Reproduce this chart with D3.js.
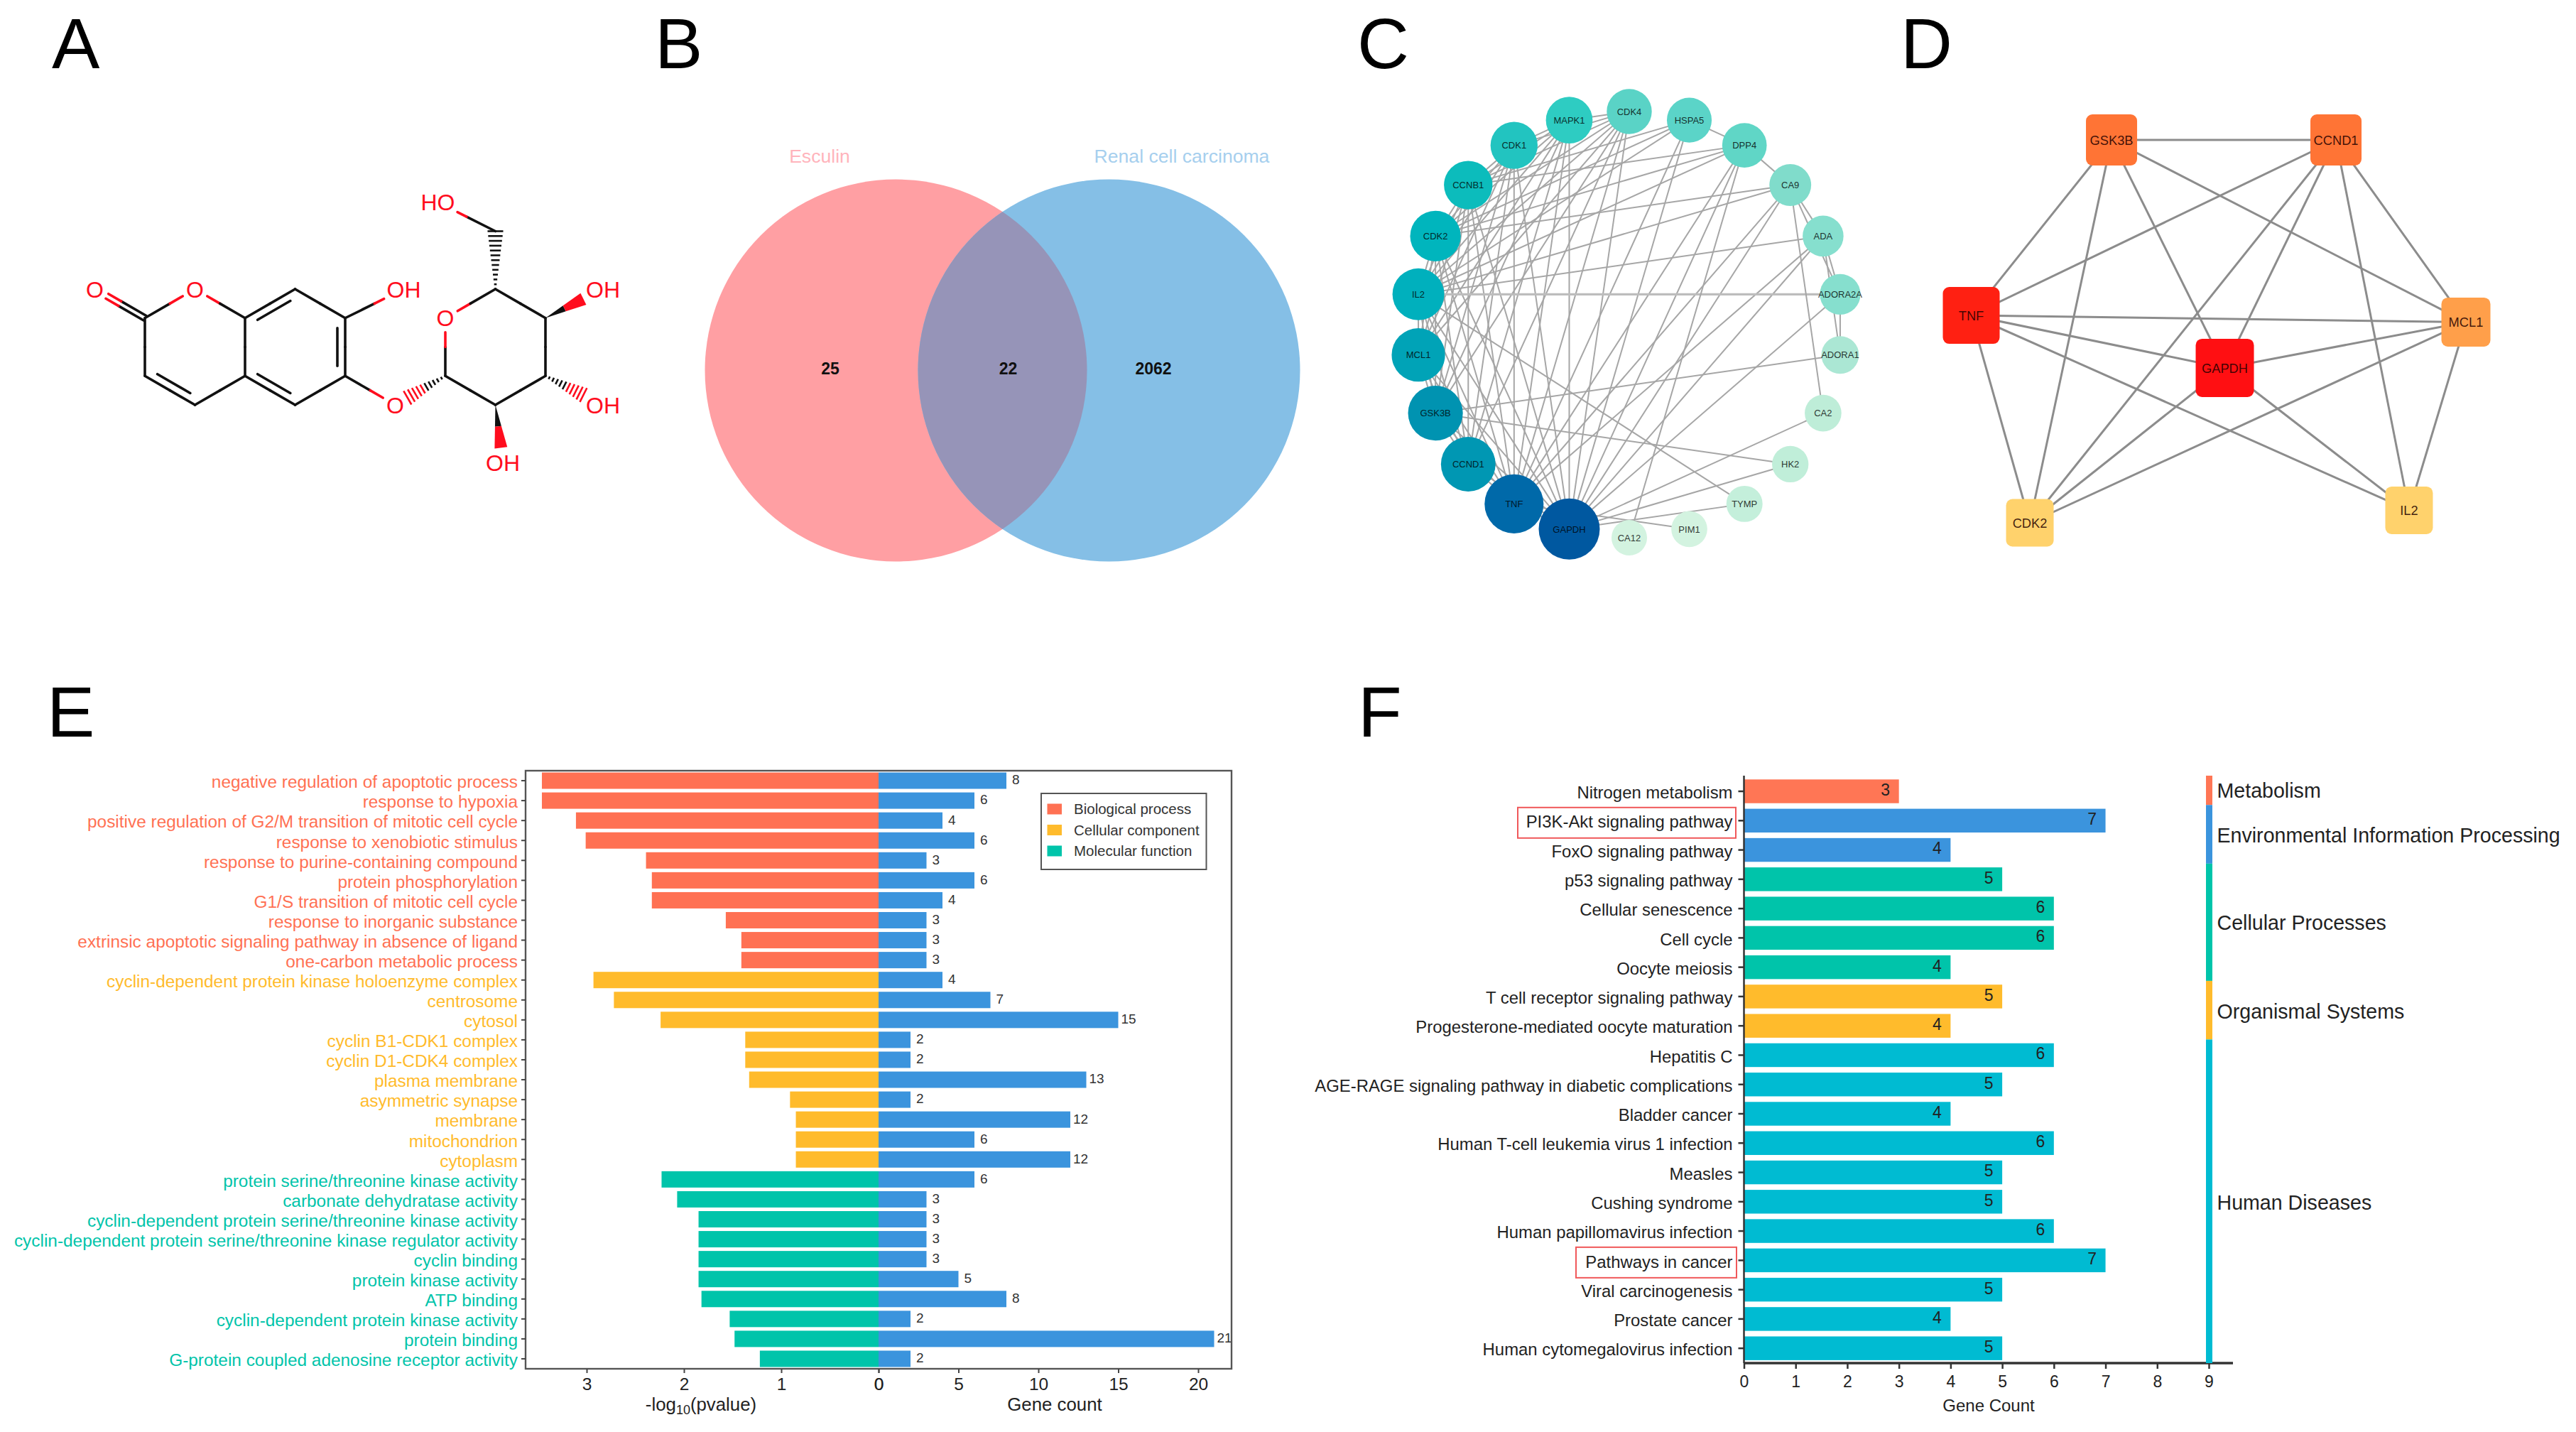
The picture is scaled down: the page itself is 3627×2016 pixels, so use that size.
<!DOCTYPE html>
<html><head><meta charset="utf-8">
<script src="https://cdn.jsdelivr.net/npm/d3@7/dist/d3.min.js"></script>
<style>html,body{margin:0;padding:0;background:#fff}svg{display:block}text{font-family:"Liberation Sans",Arial,sans-serif}</style>
</head><body><svg id="c" width="3627" height="2016" viewBox="0 0 3627 2016"></svg>
<script>
// ---------- Panel letters
const panelLetters = ["A","B","C","D","E","F"];
const panelLetterX = [73,922,1911,2676,66,1912];
const panelLetterY = [96,96,96,96,1037,1037];

// ---------- Panel A : molecule (hex-grid units)
const atomIds  = ["O0","C2","O1","C8a","C8","C7","OH7","C6","Og","C5","C4a","C4","C3","C1p","O5p","C5p","C4p","C3p","C2p","CH2","HO","OH4","OH3","OH2"];
const atomCols = [-1,0,1,2,3,4,5.17,4,5,3,2,1,0,6,6,7,8,8,7,7,5.85,9.15,9.15,7.15];
const atomRows = [1,2,1,2,1,2,1,4,5,5,4,5,4,4,2,1,2,4,5,-1,-2,1,5,7];
const atomHetero = ["O0","O1","OH7","Og","O5p","HO","OH4","OH3","OH2"];
const atomLabels = {O0:"O",O1:"O",OH7:"OH",Og:"O",O5p:"O",HO:"HO",OH4:"OH",OH3:"OH",OH2:"OH"};
const singleBonds = [["C2","O1"],["O1","C8a"],["C8","C7"],["C6","C5"],["C4a","C8a"],["C4a","C4"],["C3","C2"],["C7","OH7"],["C6","Og"],["C1p","O5p"],["O5p","C5p"],["C5p","C4p"],["C4p","C3p"],["C3p","C2p"],["C2p","C1p"],["CH2","HO"]];
const innerDoubleBonds = [["C8a","C8"],["C7","C6"],["C5","C4a"],["C4","C3"]];
const wedgeBonds = [["C4p","OH4"],["C2p","OH2"]];
const hashBonds = [["C1p","Og"],["C5p","CH2"],["C3p","OH3"]];

// ---------- Panel B : Venn
const vennSetNames = ["Esculin","Renal cell carcinoma"];
const vennCounts = [25,22,2062];

// ---------- Panel C : PPI ring, listed clockwise from CA12
const ringNodes = ["CA12","PIM1","TYMP","HK2","CA2","ADORA1","ADORA2A","ADA","CA9","DPP4","HSPA5","CDK4","MAPK1","CDK1","CCNB1","CDK2","IL2","MCL1","GSK3B","CCND1","TNF","GAPDH"];
const ringDegree = [2.5,2.7,2.8,2.9,3,3.4,4.7,4.8,5.2,6.4,6.5,6.6,7.3,7.5,8.1,9,9.5,10.2,10.8,10.7,12.6,13.5];
const ringColors = ["#D3F3E0","#D3F3E0","#C4EFDB","#C0EED9","#BEEDD8","#ABE7D4","#86DFCE","#86DFCE","#80DCCB","#60D6C6","#5BD4C8","#5AD3C6","#2ECCC2","#22C4C0","#0CBCBC","#00B5BD","#00B0BD","#00A3B7","#0093B1","#0097B3","#0069A9","#0058A0"];
const ringEdges = {
 GAPDH:["TNF","CCND1","GSK3B","MCL1","IL2","CDK2","CCNB1","CDK1","MAPK1","CDK4","HSPA5","DPP4","CA9","ADA","ADORA2A","CA2","HK2","TYMP"],
 TNF:["CCND1","GSK3B","MCL1","IL2","CDK2","CCNB1","CDK1","MAPK1","CDK4","HSPA5","DPP4","CA9","ADA","PIM1"],
 CCND1:["GSK3B","MCL1","IL2","CDK2","CCNB1","CDK1","MAPK1","CDK4"],
 GSK3B:["MCL1","IL2","CDK2","CCNB1","CDK1","MAPK1","CDK4","ADORA1","HK2"],
 MCL1:["IL2","CDK2","CCNB1","CDK1","MAPK1","CDK4"],
 IL2:["CDK2","CCNB1","CDK1","MAPK1","CDK4","HSPA5","DPP4","CA9","ADA","ADORA2A","TYMP"],
 CDK2:["CCNB1","CDK1","MAPK1","CDK4","HSPA5","DPP4","CA9"],
 CCNB1:["CDK1","MAPK1","CDK4","HSPA5","DPP4"],
 CDK1:["MAPK1","CDK4"],
 MAPK1:["CDK4"],
 HSPA5:["DPP4"],
 DPP4:["CA9","CA12"],
 CA9:["ADA","ADORA2A","CA2"],
 ADA:["ADORA2A","ADORA1"],
 ADORA2A:["ADORA1"]
};

// ---------- Panel D : hub network (fractions of the panel)
const hubNodes = ["GSK3B","CCND1","TNF","MCL1","GAPDH","CDK2","IL2"];
const hubCols  = [0.2836,0.7373,0,1,0.5126,0.1185,0.8851];
const hubRows  = [0,0,0.4583,0.4758,0.5955,1,0.9675];
const hubSizes = [72,72,80,69,82,67,67];
const hubColors = ["#FF7435","#FF7435","#FF2012","#FF9F4A","#FF0F12","#FFD26C","#FFD26C"];
const hubEdges = [["GSK3B","CCND1"],["GSK3B","TNF"],["GSK3B","CDK2"],["GSK3B","GAPDH"],["GSK3B","MCL1"],["CCND1","TNF"],["CCND1","CDK2"],["CCND1","GAPDH"],["CCND1","IL2"],["CCND1","MCL1"],["TNF","MCL1"],["TNF","GAPDH"],["TNF","IL2"],["TNF","CDK2"],["GAPDH","MCL1"],["GAPDH","CDK2"],["GAPDH","IL2"],["MCL1","CDK2"],["MCL1","IL2"]];

// ---------- Panel E : GO enrichment
const goTerms = ["negative regulation of apoptotic process","response to hypoxia","positive regulation of G2/M transition of mitotic cell cycle","response to xenobiotic stimulus","response to purine-containing compound","protein phosphorylation","G1/S transition of mitotic cell cycle","response to inorganic substance","extrinsic apoptotic signaling pathway in absence of ligand","one-carbon metabolic process","cyclin-dependent protein kinase holoenzyme complex","centrosome","cytosol","cyclin B1-CDK1 complex","cyclin D1-CDK4 complex","plasma membrane","asymmetric synapse","membrane","mitochondrion","cytoplasm","protein serine/threonine kinase activity","carbonate dehydratase activity","cyclin-dependent protein serine/threonine kinase activity","cyclin-dependent protein serine/threonine kinase regulator activity","cyclin binding","protein kinase activity","ATP binding","cyclin-dependent protein kinase activity","protein binding","G-protein coupled adenosine receptor activity"];
const goLogP = [3.46,3.46,3.11,3.01,2.39,2.33,2.33,1.57,1.41,1.41,2.93,2.72,2.24,1.37,1.37,1.33,0.91,0.85,0.85,0.85,2.23,2.07,1.85,1.85,1.85,1.85,1.82,1.53,1.48,1.22];
const goCounts = [8,6,4,6,3,6,4,3,3,3,4,7,15,2,2,13,2,12,6,12,6,3,3,3,3,5,8,2,21,2];
const goClasses = ["Biological process","Cellular component","Molecular function"];
const goClassSizes = [10,10,10];
const goClassColors = ["#FF7153","#FFBB2C","#00C4AA"];
const goLeftTicks = [0,1,2,3];
const goRightTicks = [0,5,10,15,20];

// ---------- Panel F : KEGG
const keggTerms = ["Nitrogen metabolism","PI3K-Akt signaling pathway","FoxO signaling pathway","p53 signaling pathway","Cellular senescence","Cell cycle","Oocyte meiosis","T cell receptor signaling pathway","Progesterone-mediated oocyte maturation","Hepatitis C","AGE-RAGE signaling pathway in diabetic complications","Bladder cancer","Human T-cell leukemia virus 1 infection","Measles","Cushing syndrome","Human papillomavirus infection","Pathways in cancer","Viral carcinogenesis","Prostate cancer","Human cytomegalovirus infection"];
const keggCounts = [3,7,4,5,6,6,4,5,4,6,5,4,6,5,5,6,7,5,4,5];
const keggClasses = ["Metabolism","Environmental Information Processing","Cellular Processes","Organismal Systems","Human Diseases"];
const keggClassSizes = [1,2,4,2,11];
const keggClassColors = ["#FF7655","#3B94DD","#00C4AA","#FFBB2C","#00BBD2"];
const keggTicks = [0,1,2,3,4,5,6,7,8,9];
const keggBoxed = ["PI3K-Akt signaling pathway","Pathways in cancer"];

const svg = d3.select("#c");
const FONT = '"Liberation Sans",Arial,sans-serif';

// letters
svg.append("g").selectAll("text").data(panelLetters).join("text")
  .attr("x",(d,i)=>panelLetterX[i]).attr("y",(d,i)=>panelLetterY[i])
  .attr("font-size",101).attr("fill","#000").text(d=>d);

// ========== A
(function(){
  const g = svg.append("g");
  const X = d3.scaleLinear().domain([0,8]).range([204,768]);
  const Y = d3.scaleLinear().domain([1,5]).range([407,570]);
  const pos = {}; atomIds.forEach((id,i)=>pos[id]={id,x:X(atomCols[i]),y:Y(atomRows[i]),het:atomHetero.includes(id),two:(atomLabels[id]||"").length>1});
  const RED="#FF0D1E", BLK="#111", SW=3.6;
  function seg(a,b,c){g.append("line").attr("x1",a[0]).attr("y1",a[1]).attr("x2",b[0]).attr("y2",b[1]).attr("stroke",c).attr("stroke-width",SW).attr("stroke-linecap","round");}
  function gapOf(A,ux,uy){ if(!A.het) return 0; if(!A.two) return 20; return Math.hypot(33*ux,21*uy); }
  function trimmed(A,B){
    const dx=B.x-A.x,dy=B.y-A.y,L=Math.hypot(dx,dy),ux=dx/L,uy=dy/L;
    const ga=gapOf(A,ux,uy),gb=gapOf(B,ux,uy);
    return {a:[A.x+ux*ga,A.y+uy*ga],b:[B.x-ux*gb,B.y-uy*gb],m:[(A.x+B.x)/2,(A.y+B.y)/2],ux,uy,L};
  }
  function bond(A,B,off=0){
    const t=trimmed(A,B),ox=-t.uy*off,oy=t.ux*off;
    const sh=p=>[p[0]+ox,p[1]+oy];
    seg(sh(t.a),sh(t.m),A.het?RED:BLK); seg(sh(t.m),sh(t.b),B.het?RED:BLK);
  }
  singleBonds.forEach(([a,b])=>bond(pos[a],pos[b]));
  bond(pos.C2,pos.O0,3.8); bond(pos.C2,pos.O0,-3.8);
  innerDoubleBonds.forEach(([a,b])=>{
    const A=pos[a],B=pos[b]; bond(A,B);
    const dx=B.x-A.x,dy=B.y-A.y,L=Math.hypot(dx,dy),ux=dx/L,uy=dy/L,o=11;
    seg([A.x+ux*14-uy*o,A.y+uy*14+ux*o],[B.x-ux*14-uy*o,B.y-uy*14+ux*o],BLK);
  });
  function poly(pts,c){g.append("polygon").attr("points",pts.map(p=>p.join(",")).join(" ")).attr("fill",c);}
  wedgeBonds.forEach(([a,b])=>{
    const A=pos[a],B=pos[b],t=trimmed(A,B),nx=-t.uy,ny=t.ux,W=9;
    const e=t.b,m=[(A.x+e[0])/2,(A.y+e[1])/2];
    poly([[A.x,A.y],[m[0]+nx*W/2,m[1]+ny*W/2],[m[0]-nx*W/2,m[1]-ny*W/2]],BLK);
    poly([[m[0]+nx*W/2,m[1]+ny*W/2],[e[0]+nx*W,e[1]+ny*W],[e[0]-nx*W,e[1]-ny*W],[m[0]-nx*W/2,m[1]-ny*W/2]],RED);
  });
  hashBonds.forEach(([a,b])=>{
    const A=pos[a],B=pos[b],t=trimmed(A,B),nx=-t.uy,ny=t.ux;
    const endL=Math.hypot(t.b[0]-A.x,t.b[1]-A.y),n=Math.round(endL/(b==="CH2"?7:6));
    for(let i=0;i<=n;i++){
      const f=i/n,d=endL*f,w=1+f*10,cx=A.x+t.ux*d,cy=A.y+t.uy*d;
      g.append("line").attr("x1",cx+nx*w).attr("y1",cy+ny*w).attr("x2",cx-nx*w).attr("y2",cy-ny*w)
       .attr("stroke",(B.het&&f>.55)?RED:BLK).attr("stroke-width",2.6);
    }
  });
  g.selectAll("text").data(Object.keys(atomLabels)).join("text")
    .attr("x",d=>pos[d].x).attr("y",d=>pos[d].y).attr("dy",".36em").attr("text-anchor","middle")
    .attr("font-size",32).attr("fill",RED).text(d=>atomLabels[d]);
})();

// ========== B
(function(){
  const g = svg.append("g");
  const X = d3.scaleLinear().domain([0,1]).range([1261.5,1561.5]);
  const r = 269, cy = 521.5;
  const defs = g.append("defs");
  defs.append("clipPath").attr("id","vennClip").append("circle").attr("cx",X(0)).attr("cy",cy).attr("r",r);
  g.append("circle").attr("cx",X(0)).attr("cy",cy).attr("r",r).attr("fill","#FF9FA3");
  g.append("circle").attr("cx",X(1)).attr("cy",cy).attr("r",r).attr("fill","#85BFE6");
  g.append("circle").attr("cx",X(1)).attr("cy",cy).attr("r",r).attr("fill","#9694B8").attr("clip-path","url(#vennClip)");
  const cx=[1154,1664], cols=["#FFB4BC","#A6CFEE"];
  g.selectAll(".s").data(vennSetNames).join("text").attr("class","s").attr("x",(d,i)=>cx[i]).attr("y",229)
    .attr("text-anchor","middle").attr("font-size",26.6).attr("fill",(d,i)=>cols[i]).text(d=>d);
  const nx=[1169,1419.5,1624];
  g.selectAll(".n").data(vennCounts).join("text").attr("class","n").attr("x",(d,i)=>nx[i]).attr("y",527)
    .attr("text-anchor","middle").attr("font-size",23).attr("font-weight","bold").attr("fill","#111").text(d=>d);
})();

// ========== C
(function(){
  const g = svg.append("g");
  const angle = d3.scaleLinear().domain([0,ringNodes.length]).range([0,2*Math.PI]);
  const R=300, cx=2294, cy=457;
  const radius = d3.scaleLinear().domain([2.5,13.5]).range([25,43]);
  const P={}; ringNodes.forEach((n,i)=>P[n]={x:cx+R*Math.sin(angle(i)),y:cy+R*Math.cos(angle(i)),r:radius(ringDegree[i]),c:ringColors[i],n});
  const edges=[]; Object.keys(ringEdges).forEach(a=>ringEdges[a].forEach(b=>edges.push([a,b])));
  g.selectAll("line").data(edges).join("line")
    .attr("x1",d=>P[d[0]].x).attr("y1",d=>P[d[0]].y).attr("x2",d=>P[d[1]].x).attr("y2",d=>P[d[1]].y)
    .attr("stroke",d=>d[0]==="IL2"&&d[1]==="ADORA2A"?"#BDBDBD":"#A6A6A6").attr("stroke-width",d=>d[0]==="IL2"&&d[1]==="ADORA2A"?3.2:2);
  const nodes=ringNodes.map(n=>P[n]);
  g.selectAll("circle").data(nodes).join("circle").attr("cx",d=>d.x).attr("cy",d=>d.y).attr("r",d=>d.r).attr("fill",d=>d.c);
  g.selectAll("text").data(nodes).join("text").attr("x",d=>d.x).attr("y",d=>d.y).attr("dy",".36em")
    .attr("text-anchor","middle").attr("font-size",13).attr("fill","#000").attr("fill-opacity",.8).text(d=>d.n);
})();

// ========== D
(function(){
  const g = svg.append("g");
  const X = d3.scaleLinear().domain([0,1]).range([2775.5,3472]);
  const Y = d3.scaleLinear().domain([0,1]).range([197,736]);
  const P={}; hubNodes.forEach((n,i)=>P[n]={n,x:X(hubCols[i]),y:Y(hubRows[i]),s:hubSizes[i],c:hubColors[i]});
  g.selectAll("line").data(hubEdges).join("line")
    .attr("x1",d=>P[d[0]].x).attr("y1",d=>P[d[0]].y).attr("x2",d=>P[d[1]].x).attr("y2",d=>P[d[1]].y)
    .attr("stroke","#8C8C8C").attr("stroke-width",3);
  const nodes=hubNodes.map(n=>P[n]);
  g.selectAll("rect").data(nodes).join("rect").attr("x",d=>d.x-d.s/2).attr("y",d=>d.y-d.s/2).attr("width",d=>d.s).attr("height",d=>d.s)
    .attr("rx",9).attr("fill",d=>d.c);
  g.selectAll("text").data(nodes).join("text").attr("x",d=>d.x).attr("y",d=>d.y).attr("dy",".36em")
    .attr("text-anchor","middle").attr("font-size",18.3).attr("fill","#200").attr("fill-opacity",.85).text(d=>d.n);
})();

// ========== E
(function(){
  const g = svg.append("g");
  const L=740,T=1085,B=1927,Rt=1734;
  const y = d3.scaleBand().domain(goTerms).range([T,B]).paddingInner(.18).paddingOuter(.09);
  const xL = d3.scaleLinear().domain([0,1]).range([1237,1100]);
  const xR = d3.scaleLinear().domain([0,5]).range([1237,1349.5]);
  const classOf = []; goClassSizes.forEach((n,k)=>{for(let i=0;i<n;i++)classOf.push(k);});
  g.selectAll(".l").data(goTerms).join("rect").attr("class","l").attr("x",(d,i)=>xL(goLogP[i])).attr("y",d=>y(d))
    .attr("width",(d,i)=>xL(0)-xL(goLogP[i])).attr("height",y.bandwidth()).attr("fill",(d,i)=>goClassColors[classOf[i]]);
  g.selectAll(".r").data(goTerms).join("rect").attr("class","r").attr("x",xR(0)).attr("y",d=>y(d))
    .attr("width",(d,i)=>xR(goCounts[i])-xR(0)).attr("height",y.bandwidth()).attr("fill","#3B94DD");
  g.selectAll(".v").data(goTerms).join("text").attr("class","v").attr("x",(d,i)=>xR(goCounts[i])+4+(goCounts[i]<10?4:0)).attr("y",d=>y(d)+y.bandwidth()/2-1.5)
    .attr("dy",".36em").attr("font-size",19).attr("fill","#333").text((d,i)=>goCounts[i]);
  g.append("rect").attr("x",L).attr("y",T).attr("width",Rt-L).attr("height",B-T).attr("fill","none").attr("stroke","#555").attr("stroke-width",2.4);
  const ya = g.append("g").attr("transform",`translate(${L},0)`).call(d3.axisLeft(y).tickSize(6).tickPadding(5));
  ya.select(".domain").remove();
  ya.selectAll("line").attr("stroke","#444").attr("stroke-width",2);
  ya.selectAll("text").attr("font-family",FONT).attr("font-size",24.4).attr("y",2.5).attr("fill",(d,i)=>goClassColors[classOf[i]]);
  [[xL,goLeftTicks],[xR,goRightTicks]].forEach(([s,t])=>{
    const a=g.append("g").attr("transform",`translate(0,${B})`).call(d3.axisBottom(s).tickValues(t).tickFormat(d3.format("d")).tickSize(6).tickPadding(7));
    a.select(".domain").remove(); a.selectAll("line").attr("stroke","#444").attr("stroke-width",2);
    a.selectAll("text").attr("font-family",FONT).attr("font-size",24.5).attr("fill","#222");
  });
  const lab=g.append("text").attr("x",987).attr("y",1986).attr("text-anchor","middle").attr("font-size",25.8).attr("fill","#222");
  lab.append("tspan").text("-log");
  lab.append("tspan").attr("font-size",18).attr("dy",5).text("10");
  lab.append("tspan").attr("dy",-5).text("(pvalue)");
  g.append("text").attr("x",1485).attr("y",1986).attr("text-anchor","middle").attr("font-size",25.8).attr("fill","#222").text("Gene count");
  // legend
  const lg=g.append("g");
  lg.append("rect").attr("x",1466).attr("y",1117).attr("width",232.5).attr("height",107).attr("fill","#fff").attr("stroke","#555").attr("stroke-width",2);
  const ly=d3.scalePoint().domain(goClasses).range([1139,1198]);
  lg.selectAll(".sw").data(goClasses).join("rect").attr("class","sw").attr("x",1474.5).attr("y",d=>ly(d)-7.5).attr("width",20.5).attr("height",15).attr("fill",(d,i)=>goClassColors[i]);
  lg.selectAll(".lt").data(goClasses).join("text").attr("class","lt").attr("x",1512).attr("y",d=>ly(d)).attr("dy",".36em").attr("font-size",20.5).attr("fill","#333").text(d=>d);
})();

// ========== F
(function(){
  const g = svg.append("g");
  const L=2455.5,T=1092,B=1919;
  const y = d3.scaleBand().domain(keggTerms).range([1093.4,1918.8]).paddingInner(.19).paddingOuter(.095);
  const x = d3.scaleLinear().domain([0,9]).range([L,3110]);
  const classOf=[]; keggClassSizes.forEach((n,k)=>{for(let i=0;i<n;i++)classOf.push(k);});
  g.selectAll(".b").data(keggTerms).join("rect").attr("class","b").attr("x",x(0)).attr("y",d=>y(d))
    .attr("width",(d,i)=>x(keggCounts[i])-x(0)).attr("height",y.bandwidth()).attr("fill",(d,i)=>keggClassColors[classOf[i]]);
  g.selectAll(".v").data(keggTerms).join("text").attr("class","v").attr("x",(d,i)=>x(keggCounts[i])-19).attr("y",d=>y(d)+y.bandwidth()/2-2.4)
    .attr("dy",".36em").attr("text-anchor","middle").attr("font-size",23).attr("fill","#222").text((d,i)=>keggCounts[i]);
  const ya=g.append("g").attr("transform",`translate(${L},0)`).call(d3.axisLeft(y).tickSize(8).tickPadding(8));
  ya.select(".domain").attr("d",`M0,${T}V${B}`).attr("stroke","#333").attr("stroke-width",2.5);
  ya.selectAll("line").attr("stroke","#333").attr("stroke-width",2.5);
  ya.selectAll("text").attr("font-family",FONT).attr("font-size",23.9).attr("y",2.5).attr("fill","#222");
  const xa=g.append("g").attr("transform",`translate(0,${B})`).call(d3.axisBottom(x).tickValues(keggTicks).tickFormat(d3.format("d")).tickSize(8).tickPadding(10));
  xa.select(".domain").remove();
  xa.selectAll("line").attr("stroke","#333").attr("stroke-width",2.5);
  xa.selectAll("text").attr("font-family",FONT).attr("font-size",23).attr("fill","#222");
  g.append("line").attr("x1",L).attr("x2",3144).attr("y1",B).attr("y2",B).attr("stroke","#333").attr("stroke-width",3.5);
  g.append("text").attr("x",2800).attr("y",1987).attr("text-anchor","middle").attr("font-size",24).attr("fill","#222").text("Gene Count");
  // strip
  let acc=0; const step=y.step();
  keggClasses.forEach((c,k)=>{
    const y0=T+acc*step, y1=k===keggClasses.length-1?B:T+(acc+keggClassSizes[k])*step;
    g.append("rect").attr("x",3106).attr("y",y0).attr("width",9).attr("height",y1-y0).attr("fill",keggClassColors[k]);
    acc+=keggClassSizes[k];
  });
  const cy=[1113,1176,1299,1423.5,1692.5];
  g.selectAll(".c").data(keggClasses).join("text").attr("class","c").attr("x",3121.5).attr("y",(d,i)=>cy[i]).attr("dy",".36em")
    .attr("font-size",28.6).attr("fill","#222").text(d=>d);
  // red boxes
  const bx={"PI3K-Akt signaling pathway":[2137,307],"Pathways in cancer":[2219,226]};
  g.selectAll(".rb").data(keggBoxed).join("rect").attr("class","rb").attr("x",d=>bx[d][0]).attr("y",d=>y(d)+y.bandwidth()/2-18.5).attr("width",d=>bx[d][1]).attr("height",43)
    .attr("fill","none").attr("stroke","#F0585A").attr("stroke-width",2);
})();
</script></body></html>
